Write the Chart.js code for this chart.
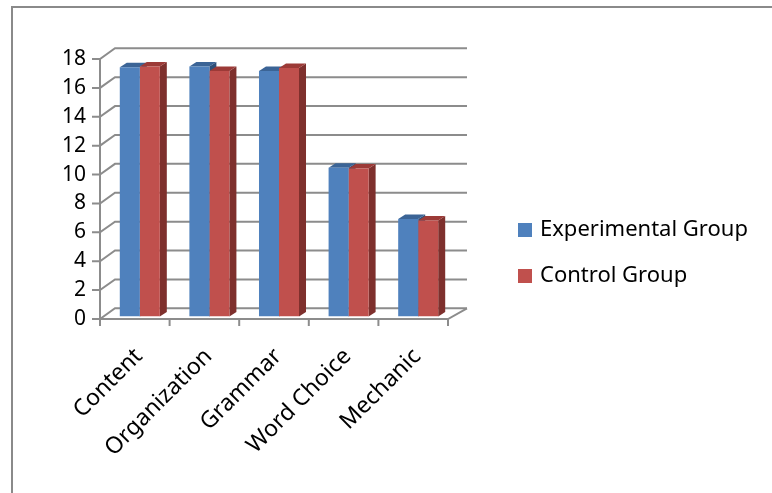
<!DOCTYPE html>
<html>
<head>
<meta charset="utf-8">
<script src="https://cdn.jsdelivr.net/npm/chart.js@4"></script>
<style>
  html, body { margin: 0; padding: 0; background: #fff; }
  #wrap { position: relative; width: 772px; height: 493px; }
</style>
</head>
<body>
<div id="wrap"><canvas id="scoreChart" width="772" height="493"></canvas></div>
<script>
// data
const categories = ['Content', 'Organization', 'Grammar', 'Word Choice', 'Mechanic'];
const experimental = [17.25, 17.3, 17.0, 10.3, 6.75];
const control = [17.3, 17.0, 17.2, 10.25, 6.65];
const seriesNames = ['Experimental Group', 'Control Group'];
const yTicks = [0, 2, 4, 6, 8, 10, 12, 14, 16, 18];

const FONT = '"Noto Sans", "Open Sans", sans-serif';
const GRID = '#8c8c8c';
// fake 3d depth
const WALL = { dx: 15, dy: -10.7 };
const BAR = { dx: 7, dy: -4.5, shiftX: 5, shiftY: -2.5 };

const faceColors = [
  { top: '#3b6496', side: '#2f4f78' },
  { top: '#9c3a37', side: '#7e302d' }
];

const fake3d = {
  id: 'fake3d',
  beforeDatasetsDraw(chart) {
    const ctx = chart.ctx;
    const y = chart.scales.y;
    const left = chart.chartArea.left, right = chart.chartArea.right;

    // back wall + diagonals + tick marks
    ctx.save();
    ctx.strokeStyle = GRID;
    ctx.lineWidth = 2;
    yTicks.forEach(v => {
      const py = y.getPixelForValue(v);
      ctx.beginPath();
      ctx.moveTo(left - 8, py);
      ctx.lineTo(left, py);
      ctx.lineTo(left + WALL.dx, py + WALL.dy);
      ctx.lineTo(right + WALL.dx + 4, py + WALL.dy);
      ctx.stroke();
    });
    // front axis and floor edge
    const y0 = y.getPixelForValue(0);
    ctx.beginPath();
    ctx.moveTo(left, y.getPixelForValue(18));
    ctx.lineTo(left, y0);
    ctx.lineTo(right, y0);
    ctx.lineTo(right + WALL.dx + 4, y0 + WALL.dy);
    ctx.stroke();
    // category ticks
    for (let i = 0; i <= categories.length; i++) {
      const px = left + (right - left) * i / categories.length;
      ctx.beginPath();
      ctx.moveTo(px, y0);
      ctx.lineTo(px, y0 + 7);
      ctx.stroke();
    }
    ctx.restore();

    // shift bars into the depth and paint top / side faces behind the fronts
    ctx.save();
    ctx.translate(BAR.shiftX, BAR.shiftY);
    chart.data.datasets.forEach((ds, di) => {
      const meta = chart.getDatasetMeta(di);
      meta.data.forEach(bar => {
        const p = bar.getProps(['x', 'y', 'base', 'width'], true);
        const x0 = p.x - p.width / 2, x1 = p.x + p.width / 2;
        ctx.fillStyle = faceColors[di].side;
        ctx.beginPath();
        ctx.moveTo(x1, p.y);
        ctx.lineTo(x1 + BAR.dx, p.y + BAR.dy);
        ctx.lineTo(x1 + BAR.dx, p.base + BAR.dy);
        ctx.lineTo(x1, p.base);
        ctx.closePath();
        ctx.fill();
        ctx.fillStyle = faceColors[di].top;
        ctx.beginPath();
        ctx.moveTo(x0, p.y);
        ctx.lineTo(x0 + BAR.dx, p.y + BAR.dy);
        ctx.lineTo(x1 + BAR.dx, p.y + BAR.dy);
        ctx.lineTo(x1, p.y);
        ctx.closePath();
        ctx.fill();
      });
    });
  },
  afterDatasetsDraw(chart) {
    chart.ctx.restore();
  },
  afterDraw(chart) {
    const ctx = chart.ctx;
    ctx.save();
    // outer frame (top and left edges visible)
    ctx.strokeStyle = '#8a8a8a';
    ctx.lineWidth = 2;
    ctx.beginPath();
    ctx.moveTo(12, 493);
    ctx.lineTo(12, 7);
    ctx.lineTo(772, 7);
    ctx.stroke();
    // legend
    ctx.font = '22px ' + FONT;
    ctx.textBaseline = 'middle';
    chart.data.datasets.forEach((ds, i) => {
      const cy = 230 + i * 46;
      ctx.fillStyle = ds.backgroundColor;
      ctx.fillRect(518, cy - 7, 14, 14);
      ctx.fillStyle = '#000';
      ctx.fillText(ds.label, 540, cy);
    });
    ctx.restore();
  }
};

new Chart(document.getElementById('scoreChart'), {
  type: 'bar',
  data: {
    labels: categories,
    datasets: [
      { label: seriesNames[0], data: experimental, backgroundColor: '#4f81bd' },
      { label: seriesNames[1], data: control, backgroundColor: '#c0504d' }
    ]
  },
  options: {
    responsive: false,
    animation: false,
    layout: { padding: { left: 40, right: 324, top: 59, bottom: 0 } },
    datasets: { bar: { categoryPercentage: 0.575, barPercentage: 1 } },
    plugins: { legend: { display: false }, tooltip: { enabled: false } },
    scales: {
      x: {
        grid: { display: false, drawTicks: false },
        border: { display: false },
        ticks: {
          color: '#000', font: { size: 23, family: FONT },
          minRotation: 45, maxRotation: 45, padding: 24, labelOffset: 4
        },
        afterFit(s) { s.height = 174; }
      },
      y: {
        min: 0, max: 18,
        grid: { display: false, drawTicks: false },
        border: { display: false },
        afterBuildTicks(s) { s.ticks = yTicks.map(v => ({ value: v })); },
        ticks: { color: '#000', font: { size: 21, family: FONT }, padding: 14 },
        afterFit(s) { s.width = 60; }
      }
    }
  },
  plugins: [fake3d]
});
</script>
</body>
</html>
